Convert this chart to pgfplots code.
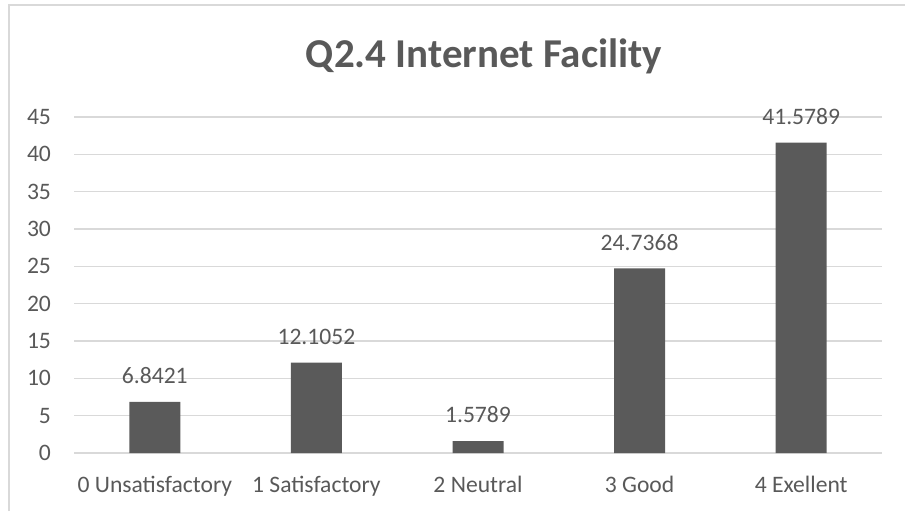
\documentclass[border=0pt]{standalone}
\usepackage{pgfplots}
\pgfplotsset{compat=1.18}
\usepackage{fontspec}
\setmainfont{Carlito}
\definecolor{txt}{HTML}{595959}
\definecolor{bar}{HTML}{5A5A5A}
\definecolor{gridc}{HTML}{D9D9D9}
\begin{document}
\begin{tikzpicture}
% 1px = 0.5pt, picture 905x511 px
\path[use as bounding box] (0pt,0pt) rectangle (452.5pt,255.5pt);
\draw[gridc, line width=1pt] (4.5pt,0pt) -- (4.5pt,253pt) -- (452.5pt,253pt);
\node[font=\fontsize{20.5}{24}\selectfont\bfseries, text=txt] at (242pt,227.5pt) {Q2.4 Internet Facility};
\begin{axis}[
    width=404pt, height=168pt, scale only axis,
    xmin=-0.5, xmax=4.5, ymin=0, ymax=45,
    ytick={0,5,...,45},
    xtick=data,
    xticklabels={0 Unsatisfactory,1 Satisfactory,2 Neutral,3 Good,4 Exellent},
    ymajorgrids, grid style={gridc, line width=0.75pt},
    axis line style={draw=none},
    major tick style={draw=none},
    tick label style={font=\fontsize{11.8}{14}\selectfont, text=txt},
    yticklabel style={xshift=-8pt},
    xticklabel style={yshift=-4pt},
    /pgf/number format/assume math mode=true,
    ybar, bar width=25.5pt,
    nodes near coords,
    every node near coord/.append style={font=\fontsize{11.8}{14}\selectfont, text=txt, yshift=5.5pt,
      /pgf/number format/fixed, /pgf/number format/precision=4},
    clip=false,
    at={(37pt,29pt)}, anchor=south west,
]
\addplot[fill=bar, draw=none] coordinates {
    (0,6.8421) (1,12.1052) (2,1.5789) (3,24.7368) (4,41.5789)
};
\end{axis}
\end{tikzpicture}
\end{document}
